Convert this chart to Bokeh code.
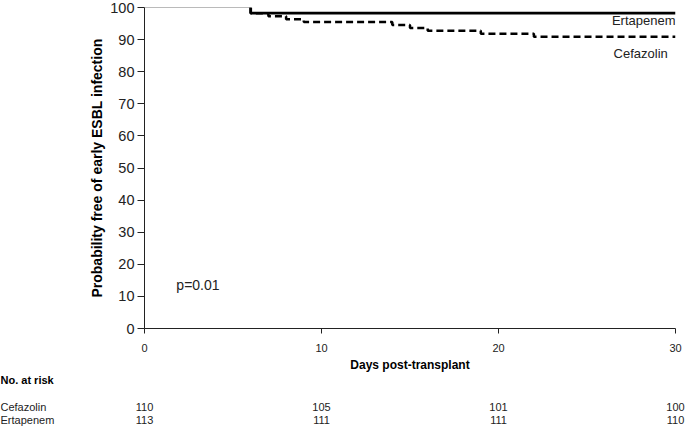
import numpy as np
from bokeh.plotting import figure
from bokeh.models import Range1d, Label, FixedTicker
from bokeh.layouts import column
from bokeh.embed import file_html
from bokeh.resources import INLINE
from bokeh.core.properties import value

# ---------------- data ----------------
cef_days = [0, 6, 7, 8, 9, 14, 15, 16, 19, 22, 30]
cef_surv = [100, 98.18, 97.27, 96.36, 95.45, 94.55, 93.64, 92.73, 91.82, 90.91, 90.91]
ert_days = [0, 6, 30]
ert_surv = [100, 98.23, 98.23]
risk_days = [0, 10, 20, 30]
risk_cef = [110, 105, 101, 100]
risk_ert = [113, 111, 111, 110]
risk_groups = ["Cefazolin", "Ertapenem"]
x_ticks = [0, 10, 20, 30]
y_ticks = list(range(0, 101, 10))
x_title = "Days post-transplant"
y_title = "Probability free of early ESBL infection"

FONT = "Liberation Sans"
TXT = "#222222"
W, H1, H2 = 685, 358, 68
L, R, T, B = 144, 10, 7, 30


def km_path(t, s):
    xs, ys = [t[0]], [s[0]]
    for i in range(1, len(t)):
        xs += [t[i], t[i]]
        ys += [s[i - 1], s[i]]
    return xs, ys


p = figure(width=W, height=H1, output_backend="svg", toolbar_location=None,
           x_range=Range1d(0, 30), y_range=Range1d(0, 100),
           min_border_left=L, min_border_right=R, min_border_top=T, min_border_bottom=B)
p.frame_align = False
p.outline_line_color = None
p.grid.visible = False
p.background_fill_color = "white"

ex, ey = km_path(ert_days, ert_surv)
cx, cy = km_path(cef_days, cef_surv)
# common part (both at 100%)
p.line(ex[:2], ey[:2], line_color="#777777", line_width=1)
p.line(cx[1:], cy[1:], line_color="black", line_width=2.5, line_dash="7 4")
p.line(ex[1:], ey[1:], line_color="black", line_width=2.8)

# axes
xa = p.xaxis[0]
xa.ticker = FixedTicker(ticks=x_ticks)
xa.major_label_text_font = FONT
xa.major_label_text_font_size = "11px"
xa.major_label_text_color = TXT
xa.major_label_standoff = 10
xa.major_tick_out = 5
xa.major_tick_in = 0
xa.minor_tick_out = 0
xa.minor_tick_in = 0
xa.axis_line_color = "#222222"
xa.major_tick_line_color = "#222222"

ya = p.yaxis[0]
ya.ticker = FixedTicker(ticks=y_ticks)
ya.axis_label = y_title
ya.axis_label_text_font = FONT
ya.axis_label_text_font_style = "bold"
ya.axis_label_text_font_size = "14px"
ya.axis_label_text_color = "black"
ya.axis_label_standoff = 2
ya.major_label_text_font = FONT
ya.major_label_text_font_size = "14.5px"
ya.major_label_text_color = TXT
ya.major_label_standoff = 3
ya.major_tick_out = 7
ya.major_tick_in = 0
ya.minor_tick_out = 0
ya.minor_tick_in = 0
ya.axis_line_color = "#222222"
ya.major_tick_line_color = "#222222"

p.add_layout(Label(x=30, y=95.9, text="Ertapenem", text_align="right", text_baseline="middle",
                   text_font=FONT, text_font_size="13px", text_color=TXT))
p.add_layout(Label(x=26.5, y=85.7, text="Cefazolin", text_align="left", text_baseline="middle",
                   text_font=FONT, text_font_size="13px", text_color=TXT))
p.add_layout(Label(x=1.8, y=13.4, text="p=0.01", text_align="left", text_baseline="middle",
                   text_font=FONT, text_font_size="14px", text_color=TXT))

# ---------------- x title + risk table ----------------
ppd = (W - L - R) / 30.0
p2 = figure(width=W, height=H2, output_backend="svg", toolbar_location=None,
            x_range=Range1d(-L / ppd, 30 + R / ppd), y_range=Range1d(H2, 0),
            x_axis_type=None, y_axis_type=None,
            min_border=0, min_border_left=0, min_border_right=0,
            min_border_top=0, min_border_bottom=0)
p2.frame_align = False
p2.outline_line_color = None
p2.grid.visible = False

x0 = p2.x_range.start
p2.text(x=[15], y=[6], text=[x_title], text_font=value(FONT), text_font_style="bold",
        text_font_size="12px", text_baseline="middle", text_align="center", text_color="black")
row_y = [48, 61]
p2.text(x=[x0], y=[21], text=["No. at risk"], text_font=value(FONT), text_font_style="bold",
        text_font_size="11px", text_baseline="middle", text_align="left", text_color="black")
p2.text(x=[x0, x0], y=row_y, text=risk_groups, text_font=value(FONT),
        text_font_size="11px", text_baseline="middle", text_align="left", text_color=TXT)
for yy, vals in zip(row_y, [risk_cef, risk_ert]):
    p2.text(x=risk_days, y=[yy] * len(risk_days), text=[str(v) for v in vals],
            text_font=value(FONT), text_font_size="11px", text_baseline="middle",
            text_align="center", text_color=TXT)

layout = column(p, p2, spacing=0)
open("out.html", "w").write(file_html(layout, INLINE))
